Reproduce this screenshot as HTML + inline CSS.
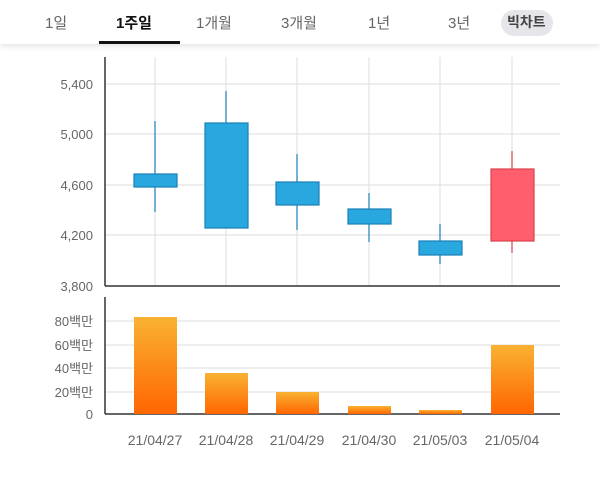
<!DOCTYPE html>
<html><head><meta charset="utf-8"><style>
body{margin:0;width:600px;height:483px;background:#fff;font-family:"Liberation Sans","Noto Sans CJK KR",sans-serif;overflow:hidden;position:relative}
.hdr{position:absolute;left:0;top:0;width:600px;height:44px;background:#fff;box-shadow:0 2px 6px rgba(0,0,0,.12)}
.t{position:absolute;top:12px;font-size:15px;color:#666}
</style></head><body>
<div class="hdr">
<span class="t" style="left:45px">1일</span>
<span class="t" style="left:116px;color:#111;font-weight:bold">1주일</span>
<div style="position:absolute;left:99px;top:41px;width:81px;height:3px;background:#111"></div>
<span class="t" style="left:196px">1개월</span>
<span class="t" style="left:281px">3개월</span>
<span class="t" style="left:368px">1년</span>
<span class="t" style="left:448px">3년</span>
<div style="position:absolute;left:501px;top:10px;width:52px;height:26px;border-radius:13px;background:#e6e6ea"></div>
<span class="t" style="left:507px;top:14px;color:#444;font-weight:bold;font-size:14px;line-height:17px">빅차트</span>
</div>
<svg width="600" height="483" style="position:absolute;left:0;top:0" font-family="Liberation Sans, Noto Sans CJK KR, sans-serif">
<defs><linearGradient id="g" x1="0" y1="0" x2="0" y2="1"><stop offset="0" stop-color="#f9b233"/><stop offset="1" stop-color="#ff6600"/></linearGradient></defs>
<g stroke="#ddd" stroke-width="1">
<line x1="155" y1="57" x2="155" y2="286"/><line x1="226" y1="57" x2="226" y2="286"/><line x1="297" y1="57" x2="297" y2="286"/><line x1="369" y1="57" x2="369" y2="286"/><line x1="440" y1="57" x2="440" y2="286"/><line x1="512" y1="57" x2="512" y2="286"/>
<line x1="105" y1="84" x2="560" y2="84"/><line x1="105" y1="134" x2="560" y2="134"/><line x1="105" y1="185" x2="560" y2="185"/><line x1="105" y1="235" x2="560" y2="235"/>
<line x1="105" y1="321" x2="560" y2="321"/><line x1="105" y1="345" x2="560" y2="345"/><line x1="105" y1="368" x2="560" y2="368"/><line x1="105" y1="392" x2="560" y2="392"/>
</g>
<g stroke="#333" stroke-width="1.5"><line x1="105" y1="57" x2="105" y2="286"/><line x1="105" y1="286" x2="560" y2="286"/><line x1="105" y1="297" x2="105" y2="414"/><line x1="105" y1="414" x2="560" y2="414"/></g>
<g fill="#666" font-size="13" text-anchor="end">
<text x="93" y="89">5,400</text><text x="93" y="139">5,000</text><text x="93" y="190">4,600</text><text x="93" y="240">4,200</text><text x="93" y="291">3,800</text>
<text x="93" y="326">80백만</text><text x="93" y="350">60백만</text><text x="93" y="373">40백만</text><text x="93" y="397">20백만</text><text x="93" y="419">0</text>
</g>
<g stroke="#1a7fb8" stroke-width="1.2" fill="#29a8e0">
<line x1="155" y1="121" x2="155" y2="212"/><rect x="134" y="174" width="43" height="13"/>
<line x1="226" y1="91" x2="226" y2="228"/><rect x="205" y="123" width="43" height="105"/>
<line x1="297" y1="154" x2="297" y2="230"/><rect x="276" y="182" width="43" height="23"/>
<line x1="369" y1="193" x2="369" y2="242"/><rect x="348" y="209" width="43" height="15"/>
<line x1="440" y1="224" x2="440" y2="264"/><rect x="419" y="241" width="43" height="14"/>
</g>
<g stroke="#d9414e" stroke-width="1.2" fill="#ff5f6d"><line x1="512" y1="151" x2="512" y2="253"/><rect x="491" y="169" width="43" height="72"/></g>
<g fill="url(#g)">
<rect x="134" y="317" width="43" height="97"/><rect x="205" y="373" width="43" height="41"/><rect x="276" y="392" width="43" height="22"/><rect x="348" y="406" width="43" height="8"/><rect x="419" y="410" width="43" height="4"/><rect x="491" y="345" width="43" height="69"/>
</g>
<g fill="#666" font-size="14" text-anchor="middle">
<text x="155" y="445">21/04/27</text><text x="226" y="445">21/04/28</text><text x="297" y="445">21/04/29</text><text x="369" y="445">21/04/30</text><text x="440" y="445">21/05/03</text><text x="512" y="445">21/05/04</text>
</g>
</svg>
</body></html>
